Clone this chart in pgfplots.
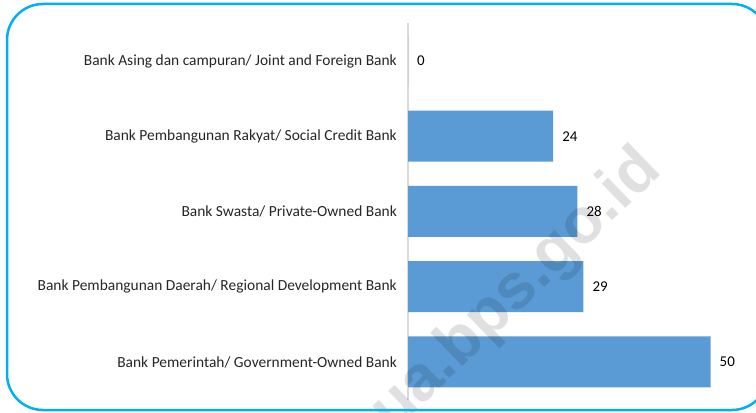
\documentclass[border=0pt]{standalone}
\usepackage{fontspec}
\setmainfont{Carlito}
\newfontfamily\wm{Liberation Sans}
\usepackage{pgfplots}
\pgfplotsset{compat=1.18}
\definecolor{barblue}{HTML}{5B9BD5}
\definecolor{baredge}{HTML}{9DC3E6}
\definecolor{frame}{HTML}{00B0F0}
\definecolor{axgray}{HTML}{D9D9D9}
\begin{document}
\begin{tikzpicture}[x=1bp,y=1bp]
\useasboundingbox (0,0) rectangle (756,412);
\clip (0,0) rectangle (756,412);
\begin{axis}[
  at={(408bp,12.4bp)}, anchor=south west,
  scale only axis,
  width=332.75bp, height=376.25bp,
  xmin=0, xmax=55, ymin=-0.5, ymax=4.5,
  hide x axis,
  axis y line*=left,
  y axis line style={axgray, line width=1.5bp, -},
  ytick={0,1,2,3,4},
  yticklabels={Bank Pemerintah/ Government-Owned Bank,
    Bank Pembangunan Daerah/ Regional Development Bank,
    Bank Swasta/ Private-Owned Bank,
    Bank Pembangunan Rakyat/ Social Credit Bank,
    Bank Asing dan campuran/ Joint and Foreign Bank},
  major tick length=0pt,
  yticklabel style={font=\fontsize{15.5}{17}\selectfont, inner sep=0pt, anchor=east, xshift=-11bp, text=black!85},
  xbar, bar width=51bp,
  nodes near coords,
  /pgf/number format/assume math mode=true,
  nodes near coords style={font=\fontsize{15}{17}\selectfont, anchor=west, inner sep=0pt, xshift=9bp, text=black},
  clip=false,
]
\addplot[fill=barblue, draw=none] coordinates {(50,0) (29,1) (28,2) (24,3) (0,4)};
\end{axis}
\node[rotate=44, font=\wm\bfseries\fontsize{64}{70}\selectfont, text=black, text opacity=0.12] at (517,121) {ua.bps.go.id};
\draw[frame, line width=2.5bp, rounded corners=36bp] (7,2) rectangle (768,408);
\end{tikzpicture}
\end{document}
